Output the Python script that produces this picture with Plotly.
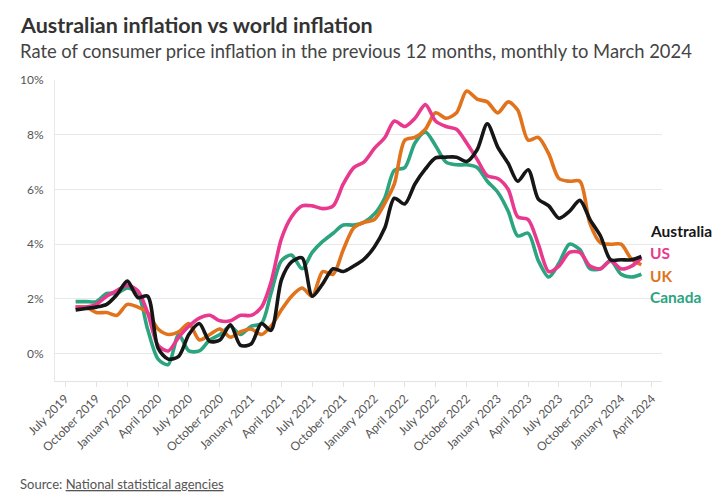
import pandas as pd
import plotly.graph_objects as go

# Monthly dates, August 2019 to March 2024
dates = pd.date_range("2019-08-01", "2024-03-01", freq="MS")

# Annual CPI inflation (%)
australia = [1.6, 1.65, 1.7, 1.8, 2.15, 2.65, 2.05, 2.1, 0.2, -0.2,
             -0.1, 0.7, 1.1, 0.45, 0.5, 1.05, 0.3, 0.35, 1.1, 0.85,
             2.7, 3.35, 3.5, 2.1, 2.55, 3.1, 3.0, 3.2, 3.45, 3.9,
             4.6, 5.68, 5.47, 6.2, 6.75, 7.15, 7.18, 7.18, 7.02, 7.45,
             8.4, 7.55, 6.95, 6.3, 6.72, 5.65, 5.4, 4.95, 5.2, 5.6,
             4.9, 4.3, 3.43, 3.43, 3.43, 3.55]
us = [1.7, 1.7, 1.8, 2.1, 2.3, 2.5, 2.3, 1.5, 0.3, 0.1,
      0.6, 1.0, 1.3, 1.4, 1.2, 1.2, 1.4, 1.4, 1.7, 2.6,
      4.2, 5.0, 5.4, 5.4, 5.3, 5.4, 6.2, 6.8, 7.0, 7.5,
      7.9, 8.5, 8.3, 8.6, 9.1, 8.5, 8.3, 8.2, 7.7, 7.1,
      6.5, 6.4, 6.0, 5.0, 4.9, 4.0, 3.0, 3.2, 3.7, 3.7,
      3.2, 3.1, 3.4, 3.1, 3.2, 3.5]
uk = [1.7, 1.7, 1.5, 1.5, 1.4, 1.8, 1.7, 1.5, 0.9, 0.7,
      0.8, 1.1, 0.5, 0.7, 0.9, 0.6, 0.8, 0.9, 0.7, 1.0,
      1.6, 2.1, 2.4, 2.1, 3.0, 2.9, 3.8, 4.6, 4.8, 4.9,
      5.5, 6.2, 7.8, 7.9, 8.2, 8.8, 8.6, 8.8, 9.6, 9.3,
      9.2, 8.8, 9.2, 8.9, 7.8, 7.9, 7.3, 6.4, 6.3, 6.3,
      4.75, 4.05, 4.0, 4.0, 3.45, 3.25]
canada = [1.9, 1.9, 1.9, 2.2, 2.2, 2.4, 2.2, 0.9, -0.2, -0.4,
          0.7, 0.1, 0.1, 0.5, 0.7, 1.0, 0.7, 1.0, 1.1, 2.2,
          3.4, 3.6, 3.1, 3.7, 4.1, 4.4, 4.7, 4.7, 4.8, 5.1,
          5.7, 6.7, 6.8, 7.7, 8.1, 7.6, 7.0, 6.9, 6.9, 6.8,
          6.3, 5.9, 5.2, 4.3, 4.4, 3.4, 2.8, 3.3, 4.0, 3.8,
          3.1, 3.1, 3.4, 2.9, 2.8, 2.9]

tick_dates = pd.date_range("2019-07-01", "2024-04-01", freq="QS-JAN")
tick_labels = [d.strftime("%B %Y") for d in tick_dates]

FONT = "Lato"

series = [
    ("Canada", canada, "#2ba47f"),
    ("UK", uk, "#e0731c"),
    ("US", us, "#e8398e"),
    ("Australia", australia, "#161616"),
]

# label heights for the end-of-line names (in % units)
label_y = {"Australia": 4.47, "US": 3.68, "UK": 2.85, "Canada": 2.07}

fig = go.Figure()

for name, vals, color in series:
    fig.add_trace(
        go.Scatter(
            x=dates,
            y=vals,
            mode="lines",
            name=name,
            line=dict(color=color, width=3.6, shape="spline", smoothing=0.8),
            showlegend=False,
        )
    )
    fig.add_annotation(
        x=dates[-1], y=label_y[name], xref="x", yref="y",
        text=f"<b>{name}</b>", showarrow=False,
        xanchor="left", yanchor="middle", xshift=7,
        font=dict(family=FONT, size=15.5, color=color),
    )

# title, subtitle, source
fig.add_annotation(
    x=-0.0606, y=1.182, xref="paper", yref="paper",
    text="<b>Australian inflation vs world inflation</b>",
    showarrow=False, xanchor="left", yanchor="middle",
    font=dict(family=FONT, size=21.5, color="#333333"),
)
fig.add_annotation(
    x=-0.0606, y=1.098, xref="paper", yref="paper",
    text="Rate of consumer price inflation in the previous 12 months, monthly to March 2024",
    showarrow=False, xanchor="left", yanchor="middle",
    font=dict(family=FONT, size=18.4, color="#444444"),
)
fig.add_annotation(
    x=-0.0606, y=-0.342, xref="paper", yref="paper",
    text="Source: <u>National statistical agencies</u>",
    showarrow=False, xanchor="left", yanchor="middle",
    font=dict(family=FONT, size=13, color="#555555"),
)

# the page adds an 8px body margin, so the figure is 8px smaller
fig.update_layout(
    width=716,
    height=490,
    margin=dict(l=43, r=62, t=72, b=117),
    paper_bgcolor="white",
    plot_bgcolor="white",
    font=dict(family=FONT, color="#555555"),
)

fig.update_xaxes(
    range=["2019-06-01", "2024-05-01"],
    tickvals=tick_dates,
    ticktext=tick_labels,
    tickangle=-45,
    tickfont=dict(size=12, color="#555555"),
    ticks="outside",
    ticklen=5,
    tickcolor="#e3e3e3",
    showgrid=False,
    showline=True,
    linecolor="#e3e3e3",
    linewidth=1,
    zeroline=False,
)

fig.update_yaxes(
    range=[-1, 10],
    tickvals=[0, 2, 4, 6, 8, 10],
    ticktext=["0%", "2%", "4%", "6%", "8%", "10%"],
    tickfont=dict(size=12, color="#555555"),
    ticklabelstandoff=8,
    showgrid=True,
    gridcolor="#e8e8e8",
    gridwidth=1,
    showline=True,
    linecolor="#e8e8e8",
    zeroline=False,
)

fig.write_html("out.html")
